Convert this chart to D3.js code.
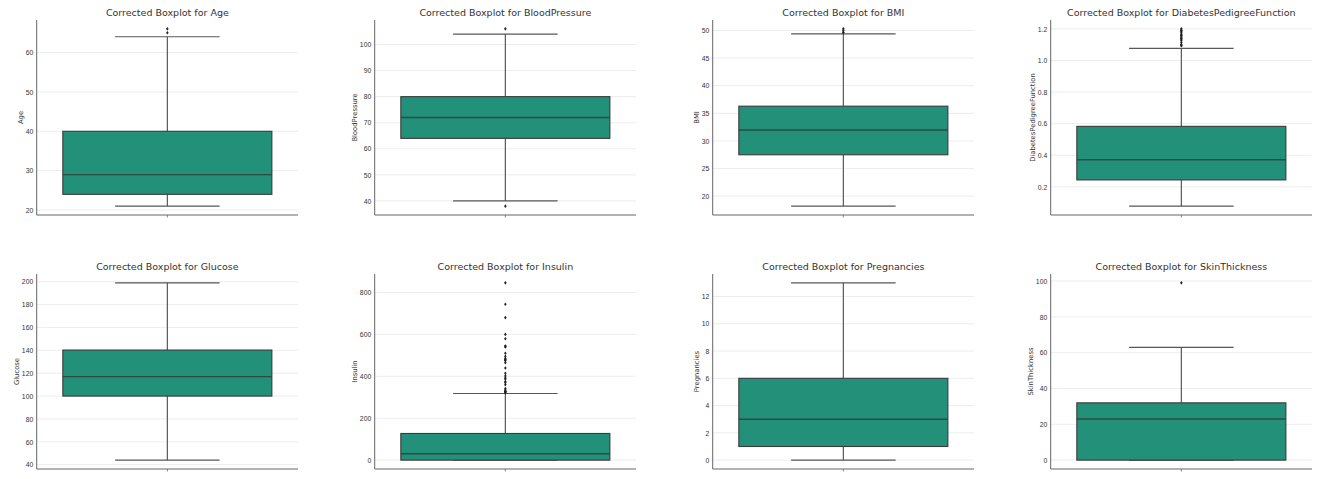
<!DOCTYPE html>
<html>
<head>
<meta charset="utf-8">
<script src="https://cdn.jsdelivr.net/npm/d3@7"></script>
<style>
   body { margin: 0; background: #ffffff; }
   svg { display: block; font-family: "DejaVu Sans", sans-serif; }
   .grid line { stroke: #e9e9e9; stroke-width: 0.8; }
   .y-axis text { fill: #333; font-size: 6.8px; }
   .y-axis path, .y-axis line { display: none; }
   .title { fill: #333; font-size: 9.5px; }
   .ylabel { fill: #333; font-size: 6.8px; }
</style>
</head>
<body>
<svg id="chart"></svg>
<script>
// Summary values, one entry per panel
const features = ["Age", "BloodPressure", "BMI", "DiabetesPedigreeFunction",
   "Glucose", "Insulin", "Pregnancies", "SkinThickness"];
const q1s = [24, 64, 27.5, 0.244, 100, 0, 1, 0];
const medians = [29, 72, 32, 0.372, 117, 30.5, 3, 23];
const q3s = [40, 80, 36.3, 0.583, 140.25, 127.25, 6, 32];
const whiskerLows = [21, 40, 18.2, 0.078, 44, 0, 0, 0];
const whiskerHighs = [64, 104, 49.4, 1.076, 199, 318, 13, 63];
const outliers = [
   [65, 66],
   [38, 106],
   [49.6, 49.7, 50.0, 50.3],
   [1.093, 1.096, 1.101, 1.114, 1.127, 1.136, 1.138, 1.144, 1.154, 1.159,
    1.162, 1.174, 1.182, 1.189, 1.191, 1.2],
   [],
   [321, 325, 326, 328, 330, 335, 342, 360, 370, 375, 387, 392, 402, 415, 440,
    465, 474, 478, 480, 485, 495, 510, 540, 543, 545, 579, 600, 680, 744, 846],
   [],
   [99]
];
const tickValues = [
   [20, 30, 40, 50, 60],
   [40, 50, 60, 70, 80, 90, 100],
   [20, 25, 30, 35, 40, 45, 50],
   [0.2, 0.4, 0.6, 0.8, 1.0, 1.2],
   [40, 60, 80, 100, 120, 140, 160, 180, 200],
   [0, 200, 400, 600, 800],
   [0, 2, 4, 6, 8, 10, 12],
   [0, 20, 40, 60, 80, 100]
];
const tickFormats = ["d", "d", "d", ".1f", "d", "d", "d", "d"];

const width = 1325, height = 479;
const svg = d3.select("#chart").attr("width", width).attr("height", height);

// Panel grid: 4 columns x 2 rows
const colLeft = (c) => 36.7 + c * 338;
const rowTop = [20, 274];
const panelW = 261.3, panelH = 195;

const boxFill = "#23907a";
const lineColor = "#3a3a3a";
const whiskerColor = "#575757";

features.forEach((name, i) => {
   const col = i % 4, row = Math.floor(i / 4);
   const g = svg.append("g")
      .attr("transform", `translate(${colLeft(col)},${rowTop[row]})`);

   // matplotlib-style 5% margin around the data
   const lo = Math.min(whiskerLows[i], ...outliers[i]);
   const hi = Math.max(whiskerHighs[i], ...outliers[i]);
   const pad = (hi - lo) * 0.05;

   const y = d3.scaleLinear().domain([lo - pad, hi + pad]).range([panelH, 0]);
   // single box covering 80% of the axis width
   const x = d3.scaleBand().domain([name]).range([0, panelW])
      .paddingInner(0).paddingOuter(0.125);
   const cx = x(name) + x.bandwidth() / 2;
   const capHalf = x.bandwidth() / 4;

   // Gridlines
   g.append("g")
      .attr("class", "grid")
      .selectAll("line")
      .data(tickValues[i])
      .enter()
      .append("line")
      .attr("x1", 0)
      .attr("x2", panelW)
      .attr("y1", (d) => y(d))
      .attr("y2", (d) => y(d));

   // Whiskers
   g.append("line")
      .attr("x1", cx).attr("x2", cx)
      .attr("y1", y(q3s[i])).attr("y2", y(whiskerHighs[i]))
      .attr("stroke", whiskerColor).attr("stroke-width", 1.2);
   g.append("line")
      .attr("x1", cx).attr("x2", cx)
      .attr("y1", y(q1s[i])).attr("y2", y(whiskerLows[i]))
      .attr("stroke", whiskerColor).attr("stroke-width", 1.2);
   [whiskerLows[i], whiskerHighs[i]].forEach((v) => {
      g.append("line")
         .attr("x1", cx - capHalf).attr("x2", cx + capHalf)
         .attr("y1", y(v)).attr("y2", y(v))
         .attr("stroke", whiskerColor).attr("stroke-width", 1.2);
   });

   // Box
   g.append("rect")
      .attr("x", x(name))
      .attr("width", x.bandwidth())
      .attr("y", y(q3s[i]))
      .attr("height", Math.max(0.5, y(q1s[i]) - y(q3s[i])))
      .attr("fill", boxFill)
      .attr("stroke", lineColor)
      .attr("stroke-width", 1.1);

   // Median
   g.append("line")
      .attr("x1", x(name)).attr("x2", x(name) + x.bandwidth())
      .attr("y1", y(medians[i])).attr("y2", y(medians[i]))
      .attr("stroke", "#2f4a44").attr("stroke-width", 1.4);

   // Outliers (diamonds)
   g.selectAll(".flier")
      .data(outliers[i])
      .enter()
      .append("path")
      .attr("class", "flier")
      .attr("transform", (d) => `translate(${cx},${y(d)})`)
      .attr("d", "M0,-1.8L1.3,0L0,1.8L-1.3,0Z")
      .attr("fill", "#222");

   // Y axis (labels only)
   const yAxis = g.append("g")
      .attr("class", "y-axis")
      .call(d3.axisLeft(y)
         .tickValues(tickValues[i])
         .tickSize(0)
         .tickPadding(3.5)
         .tickFormat(d3.format(tickFormats[i])));

   // Spines
   g.append("line")
      .attr("x1", 0).attr("x2", 0).attr("y1", 0).attr("y2", panelH)
      .attr("stroke", "#666").attr("stroke-width", 1);
   g.append("line")
      .attr("x1", 0).attr("x2", panelW).attr("y1", panelH).attr("y2", panelH)
      .attr("stroke", "#666").attr("stroke-width", 1.2);
   g.append("line")
      .attr("x1", cx).attr("x2", cx).attr("y1", panelH).attr("y2", panelH + 2.5)
      .attr("stroke", "#666").attr("stroke-width", 0.8);

   // Y label placed just left of the tick labels
   const bb = yAxis.node().getBBox();
   g.append("text")
      .attr("class", "ylabel")
      .attr("text-anchor", "middle")
      .attr("transform", `translate(${bb.x - 2.5},${panelH / 2}) rotate(-90)`)
      .text(name);

   // Title
   g.append("text")
      .attr("class", "title")
      .attr("text-anchor", "middle")
      .attr("x", panelW / 2)
      .attr("y", -4)
      .text(`Corrected Boxplot for ${name}`);
});
</script>
</body>
</html>
